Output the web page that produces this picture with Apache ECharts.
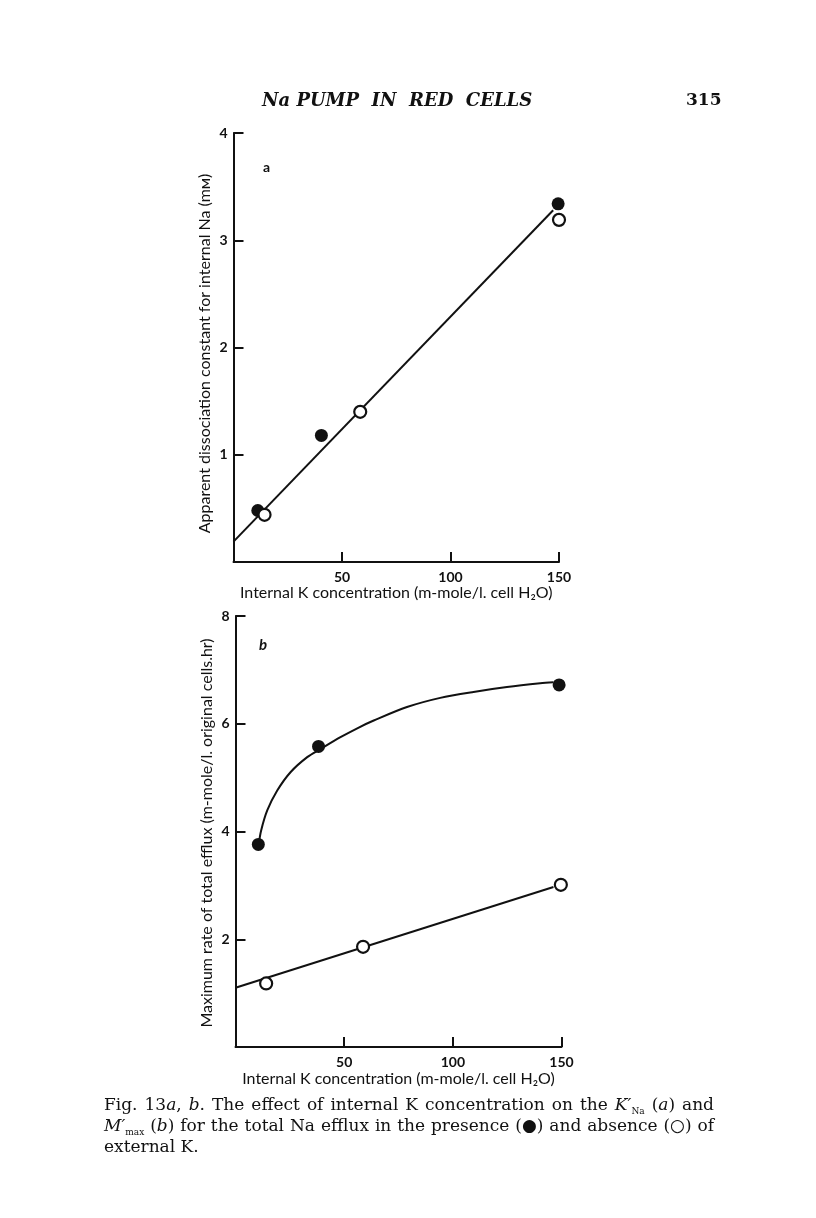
<!DOCTYPE html>
<html><head><meta charset="utf-8">
<script src="https://cdn.jsdelivr.net/npm/echarts@6/dist/echarts.min.js"></script>
<style>html,body{margin:0;padding:0;background:#fff}#c{width:816px;height:1218px}</style>
</head><body><div id="c"></div>
<script>
// ---- Data ----
const xTicks = [0, 50, 100, 150];
const aYTicks = [0, 1, 2, 3, 4];
const bYTicks = [0, 2, 4, 6, 8];

// Panel a: K'Na vs internal K
const aFilledX = [11.2, 40.5, 149.6];
const aFilledY = [0.48, 1.18, 3.34];
const aOpenX = [14.3, 58.4, 150.0];
const aOpenY = [0.44, 1.40, 3.19];
const aFitX = [0, 147.3];
const aFitY = [0.19, 3.28];

// Panel b: M'max vs internal K
const bFilledX = [10.5, 38.2, 148.9];
const bFilledY = [3.76, 5.58, 6.72];
const bOpenX = [14.1, 58.7, 149.7];
const bOpenY = [1.18, 1.86, 3.01];
const bFitX = [0, 146.3];
const bFitY = [1.10, 2.97];
const bCurveX = [10.7, 11.8, 14.6, 19.2, 25.3, 33.0, 39.1, 48.3, 56.7, 63.6, 78.9, 94.2, 109.5, 124.9, 140.2, 146.3];
const bCurveY = [3.77, 4.02, 4.39, 4.76, 5.10, 5.38, 5.53, 5.75, 5.93, 6.06, 6.31, 6.48, 6.59, 6.68, 6.75, 6.77];

const xName = 'Internal K concentration (m-mole/l. cell H\u2082O)';
const aYName = 'Apparent dissociation constant for internal Na (m\u1D0D)';
const bYName = 'Maximum rate of total efflux (m-mole/l. original cells.hr)';

// Caption lines: each word is a list of [style, text] pieces
const captionLines = [
  [[['n','Fig.']], [['n','13'],['i','a'],['n',',']], [['i','b'],['n','.']], [['n','The']], [['n','effect']], [['n','of']], [['n','internal']], [['n','K']], [['n','concentration']], [['n','on']], [['n','the']], [['i','K′'],['sub','Na']], [['n','('],['i','a'],['n',')']], [['n','and']]],
  [[['i','M′'],['sub','max']], [['n','('],['i','b'],['n',')']], [['n','for']], [['n','the']], [['n','total']], [['n','Na']], [['n','efflux']], [['n','in']], [['n','the']], [['n','presence']], [['n','(\u25CF)']], [['n','and']], [['n','absence']], [['n','(\u25CB)']], [['n','of']]],
  [[['n','external']], [['n','K.']]]
];

const zip = (xs, ys) => xs.map((x, i) => [x, ys[i]]);
const INK = '#111';
const sans = 'Lato';
const serif = 'DejaVu Serif';
const CAP_SIZE = 17;

function xAxis(gi, gap) {
  return {
    type: 'value', gridIndex: gi, min: xTicks[0], max: xTicks[xTicks.length - 1],
    interval: xTicks[1] - xTicks[0],
    name: xName, nameLocation: 'middle', nameGap: gap,
    nameTextStyle: { fontFamily: sans, fontSize: 16, color: INK },
    axisLine: { show: true, lineStyle: { color: INK, width: 2 } },
    axisTick: { show: true, inside: true, length: 10, lineStyle: { color: INK, width: 2 } },
    axisLabel: { fontFamily: sans, fontSize: 14, fontWeight: 'bold', color: INK, margin: 8,
      formatter: v => (v === 0 ? '' : String(v)) },
    splitLine: { show: false }
  };
}
function yAxis(gi, ticks, name, pad) {
  return {
    type: 'value', gridIndex: gi, min: ticks[0], max: ticks[ticks.length - 1],
    interval: ticks[1] - ticks[0],
    name: name, nameLocation: 'middle', nameGap: 21, nameRotate: 90,
    nameTextStyle: { fontFamily: sans, fontSize: 16, color: INK, padding: pad },
    axisLine: { show: true, lineStyle: { color: INK, width: 2 } },
    axisTick: { show: true, inside: true, length: 10, lineStyle: { color: INK, width: 2 } },
    axisLabel: { fontFamily: sans, fontSize: 14, fontWeight: 'bold', color: INK, margin: 6,
      formatter: v => (v === 0 ? '' : String(v)) },
    splitLine: { show: false }
  };
}
const filled = { symbol: 'circle', symbolSize: 13, itemStyle: { color: INK, opacity: 1 } };
const open = { symbol: 'circle', symbolSize: 12, itemStyle: { color: '#fff', borderColor: INK, borderWidth: 2.2, opacity: 1 } };
function pts(gi, data, style) {
  return Object.assign({ type: 'scatter', xAxisIndex: gi, yAxisIndex: gi, data: data, z: 5, silent: true }, style);
}
function line(gi, data, smooth) {
  return { type: 'line', xAxisIndex: gi, yAxisIndex: gi, data: data, showSymbol: false, smooth: smooth,
    lineStyle: { color: INK, width: 2 }, z: 3, silent: true, clip: true };
}

// ---- justified caption layout ----
const capStyles = {
  n: { font: `${CAP_SIZE}px "${serif}"` },
  i: { font: `italic ${CAP_SIZE}px "${serif}"` },
  sub: { font: `9px "${serif}"` }
};
const capRich = {
  n: { fontFamily: serif, fontSize: CAP_SIZE, lineHeight: 21 },
  i: { fontFamily: serif, fontStyle: 'italic', fontSize: CAP_SIZE, lineHeight: 21 },
  sub: { fontFamily: serif, fontSize: 9, verticalAlign: 'bottom', lineHeight: 15 }
};
const mctx = document.createElement('canvas').getContext('2d');
function wordWidth(word) {
  let w = 0;
  word.forEach(([s, t]) => { mctx.font = capStyles[s].font; w += mctx.measureText(t).width; });
  return w;
}
const capLeft = 104, capRight = 714, capTop = 1097, capStep = 21;
const captionGraphics = [];
captionLines.forEach((words, li) => {
  const widths = words.map(wordWidth);
  const total = widths.reduce((a, b) => a + b, 0);
  mctx.font = capStyles.n.font;
  const space = mctx.measureText(' ').width;
  const justify = li < captionLines.length - 1;
  const gap = justify ? (capRight - capLeft - total) / (words.length - 1) : space;
  let x = capLeft;
  words.forEach((word, wi) => {
    captionGraphics.push({
      type: 'text', left: x, top: capTop + li * capStep,
      style: { text: word.map(([s, t]) => `{${s}|${t}}`).join(''), fill: INK, rich: capRich }
    });
    x += widths[wi] + gap;
  });
});

const chart = echarts.init(document.getElementById('c'), null, { renderer: 'canvas' });
chart.setOption({
  backgroundColor: '#fff',
  animation: false,
  grid: [
    { left: 233.5, top: 133, width: 325.5, height: 429 },
    { left: 235.5, top: 616, width: 326, height: 431 }
  ],
  xAxis: [xAxis(0, 23), xAxis(1, 24)],
  yAxis: [yAxis(0, aYTicks, aYName, [0, 12, 0, 0]), yAxis(1, bYTicks, bYName, [0, 3, 0, 0])],
  series: [
    line(0, zip(aFitX, aFitY), false),
    pts(0, zip(aFilledX, aFilledY), filled),
    pts(0, zip(aOpenX, aOpenY), open),
    line(1, zip(bFitX, bFitY), false),
    line(1, zip(bCurveX, bCurveY), 0.3),
    pts(1, zip(bFilledX, bFilledY), filled),
    pts(1, zip(bOpenX, bOpenY), open)
  ],
  graphic: [
    { type: 'text', left: 262, top: 92, style: { text: 'Na PUMP  IN  RED  CELLS', fontFamily: serif, fontStyle: 'italic', fontWeight: 'bold', fontSize: 18, fill: INK } },
    { type: 'text', left: 686, top: 92, style: { text: '315', fontFamily: serif, fontWeight: 'bold', fontSize: 17, fill: INK } },
    { type: 'text', left: 263, top: 160, style: { text: 'a', fontFamily: sans, fontWeight: 'bold', fontSize: 14, fill: INK } },
    { type: 'text', left: 259, top: 638, style: { text: 'b', fontFamily: sans, fontWeight: 'bold', fontStyle: 'italic', fontSize: 15, fill: INK } }
  ].concat(captionGraphics)
});
</script></body></html>
